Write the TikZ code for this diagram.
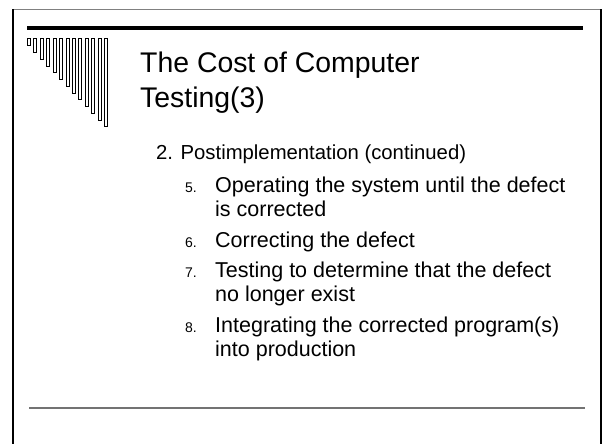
\documentclass[tikz,border=0pt]{standalone}
\usepackage{fontspec}
\setmainfont{Liberation Sans}
\begin{document}
\begin{tikzpicture}[x=1pt,y=-1pt,
  title/.style={anchor=base west,inner sep=0pt,font=\fontsize{28.4}{34}\selectfont},
  head/.style={anchor=base west,inner sep=0pt,font=\fontsize{20.3}{24}\selectfont},
  item/.style={anchor=base west,inner sep=0pt,font=\fontsize{21.5}{25}\selectfont},
  num/.style={anchor=base west,inner sep=0pt,font=\fontsize{14}{16}\selectfont},
  bar/.style={draw=black,line width=0.7pt,fill=white}]
\useasboundingbox (0,0) rectangle (602,444);
% frame
\draw[gray,line width=1pt] (12,10) -- (601,10);
\draw[black,line width=2.5pt] (13,9.5) -- (13,444);
\draw[black,line width=2pt] (601,9.5) -- (601,444);
% header rule
\draw[black,line width=4.6pt] (27,28) -- (583,28);
% decorative bars
\foreach \i in {0,...,12} {
  \draw[bar] ({27.3+6.44*\i},38) rectangle ({30.3+6.44*\i},{45.7+6.75*\i});
}
% bottom rule
\draw[black!55,line width=1.7pt] (29,408) -- (585,408);
% title
\node[title] (t1) at (140,73) {The Cost of Computer};
\node[title] (t2) at (140,107) {Testing(3)};
% body
\node[head] (h) at (156,159.5) {2. Postimplementation (continued)};
\node[num] (n5) at (185,192) {5.};
\node[item] (i5a) at (215,192) {Operating the system until the defect};
\node[item] (i5b) at (215,216) {is corrected};
\node[num] (n6) at (185,247) {6.};
\node[item] (i6) at (215,247) {Correcting the defect};
\node[num] (n7) at (185,277.5) {7.};
\node[item] (i7a) at (215,277.5) {Testing to determine that the defect};
\node[item] (i7b) at (215,301.5) {no longer exist};
\node[num] (n8) at (185,332.5) {8.};
\node[item] (i8a) at (215,332.5) {Integrating the corrected program(s)};
\node[item] (i8b) at (215,356.5) {into production};
\end{tikzpicture}
\end{document}
